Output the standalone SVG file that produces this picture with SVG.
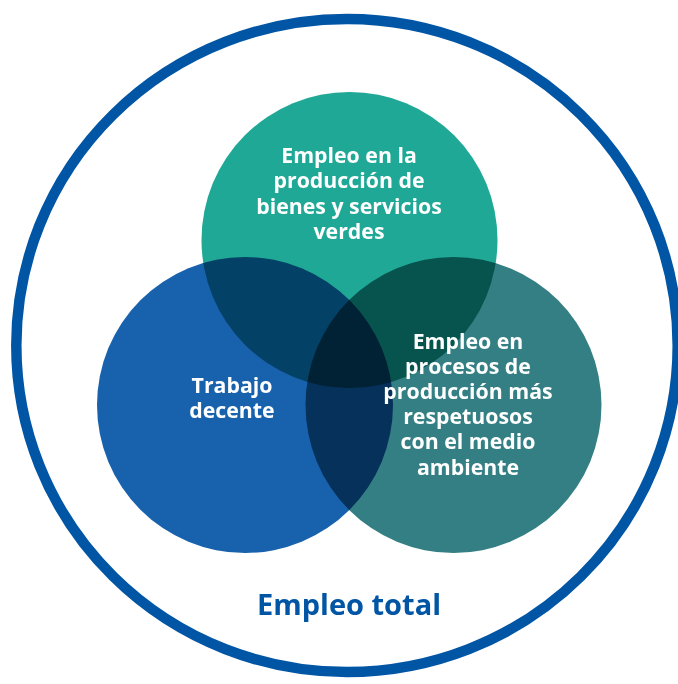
<svg xmlns="http://www.w3.org/2000/svg" width="678" height="684" viewBox="0 0 678 684">
<style>
.lbl{font-family:"Open Sans","Noto Sans","Liberation Sans",sans-serif;font-weight:700;fill:#ffffff;text-anchor:middle;font-size:21.3px}
.set{mix-blend-mode:multiply}
</style>
<rect width="678" height="684" fill="#ffffff"/>
<g id="total">
<ellipse cx="347" cy="345.5" rx="330.7" ry="326.5" fill="none" stroke="#0055a5" stroke-width="10.5"/>
<text x="349" y="615" style="font-family:'Open Sans','Noto Sans','Liberation Sans',sans-serif;font-weight:700;font-size:29px;fill:#0055a5;text-anchor:middle">Empleo total</text>
</g>
<g id="venn" style="isolation:isolate">
<g id="verdes"><circle class="set" cx="349.5" cy="240" r="148" fill="#1fa896"/></g>
<g id="decente"><circle class="set" cx="245" cy="405" r="148" fill="#1862ad"/></g>
<g id="procesos"><circle class="set" cx="453.5" cy="405" r="148" fill="#337f84"/></g>
</g>
<g id="labels">
<text class="lbl" x="349" y="163">Empleo en la</text>
<text class="lbl" x="349" y="188">producción de</text>
<text class="lbl" x="349" y="213.5">bienes y servicios</text>
<text class="lbl" x="349" y="239">verdes</text>
<text class="lbl" x="232" y="393">Trabajo</text>
<text class="lbl" x="232" y="418">decente</text>
<text class="lbl" x="468" y="348.5">Empleo en</text>
<text class="lbl" x="468" y="373.5">procesos de</text>
<text class="lbl" x="468" y="398.5">producción más</text>
<text class="lbl" x="468" y="424">respetuosos</text>
<text class="lbl" x="468" y="449">con el medio</text>
<text class="lbl" x="468" y="474.5">ambiente</text>
</g>
<g id="connectors"/>
</svg>
